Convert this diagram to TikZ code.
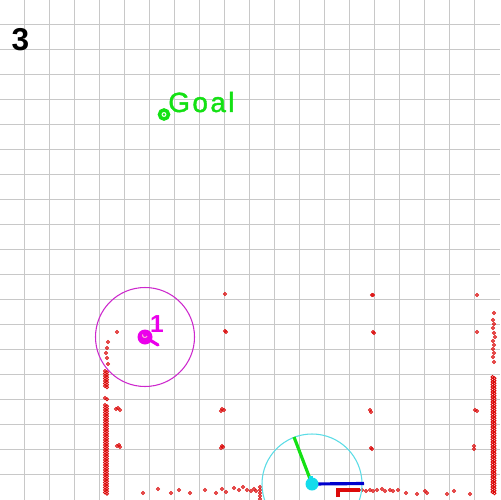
\documentclass[tikz,border=0pt]{standalone}
\usepackage{fontspec}
\setsansfont{Liberation Sans}
\usetikzlibrary{calc}
\definecolor{gridgray}{RGB}{200,200,200}
\definecolor{scanred}{RGB}{220,10,10}
\definecolor{goalgreen}{RGB}{20,225,20}
\definecolor{robmagenta}{RGB}{235,0,235}
\definecolor{rangemagenta}{RGB}{205,40,205}
\definecolor{robcyan}{RGB}{20,220,235}
\definecolor{rangecyan}{RGB}{90,220,230}
\definecolor{axisblue}{RGB}{0,0,205}

\begin{document}
\begin{tikzpicture}[x=0.02cm, y=-0.02cm,
    % Define the styles for the map
    gridline/.style={gridgray, line width=0.6pt},
    scanpt/.style={scanred, line width=0.5pt},
    heading/.style={line width=1.8pt},
    rangecircle/.style={line width=0.6pt}
]

% Fix the page and cut at its edges
\useasboundingbox (0,0) rectangle (500,500);
\clip (0,0) rectangle (500,500);
\fill[white] (0,0) rectangle (500,500);

% Draw the grid
\foreach \i in {1,...,19} {
    \draw[gridline] (25*\i-0.5,0) -- (25*\i-0.5,500);
    \draw[gridline] (0,25*\i-0.5) -- (500,25*\i-0.5);
}

% Define the points of the scene
\coordinate (goal) at (164,114.5);
\coordinate (robot1) at (145,337);
\coordinate (tail1) at (158,345);
\coordinate (robot2) at (312,484);
\coordinate (head2) at (294,437);
\coordinate (axis2) at (364,483.5);

% Draw the scan points (walls)
\foreach \y in {371,373.5,...,387,398,405,407.5,...,493} {
    \draw[scanpt] (105,\y) ++(-1.5,0) -- ++(1.5,-1.5) -- ++(1.5,1.5) -- ++(-1.5,1.5) -- cycle;
    \draw[scanpt] (107,\y+1.2) ++(-1.5,0) -- ++(1.5,-1.5) -- ++(1.5,1.5) -- ++(-1.5,1.5) -- cycle;
}
\foreach \y in {377,379.5,...,493} {
    \draw[scanpt] (492.5,\y) ++(-1.5,0) -- ++(1.5,-1.5) -- ++(1.5,1.5) -- ++(-1.5,1.5) -- cycle;
    \draw[scanpt] (494.5,\y+1.2) ++(-1.5,0) -- ++(1.5,-1.5) -- ++(1.5,1.5) -- ++(-1.5,1.5) -- cycle;
}
\foreach \y/\x in {313/494,320/493,324/494,328/493,333/494,337/495,341/493,345/494,349/493,353/494,357/493,362/494} {
    \draw[scanpt] (\x,\y) ++(-1.5,0) -- ++(1.5,-1.5) -- ++(1.5,1.5) -- ++(-1.5,1.5) -- cycle;
}
\foreach \y in {487,490,...,500} {
    \draw[scanpt] (260,\y) ++(-1.5,0) -- ++(1.5,-1.5) -- ++(1.5,1.5) -- ++(-1.5,1.5) -- cycle;
}

% Draw the single scan points
\foreach \x/\y in {117/332,108/342,107/348,106/353,107/358,108/364,
    116/409,118/408,120/410,117/446,119/445,120/447,143/493,
    225/294,225/331,226/332,222/409,224/410,221/411,222/446,223/447,221/448,
    372/295,373/295,373/332,374/333,370/410,371/412,371/448,372/449,
    477/295,477/332,475/410,477/411,474/446,474/449,
    158/489,171/493,179/490,190/493,205/490,216/493,222/489,226/492,234/488,
    239/490,243/487,247/490,251/491,254/489,256/491,
    362/490,366/491,370/490,373/491,377/490,382/489,385/491,390/490,393/491,
    398/490,406/493,417/494,425/491,427/493,447/494,454/491,470/494} {
    \draw[scanpt] (\x,\y) ++(-1.5,0) -- ++(1.5,-1.5) -- ++(1.5,1.5) -- ++(-1.5,1.5) -- cycle;
}
\draw[scanred, line width=2.4pt] (338,497) -- (338,490) -- (360,490);

% Draw the goal
\draw[goalgreen, line width=2pt] (goal) circle (4.5);
\fill[goalgreen] (goal) circle (1.4);
\node[goalgreen, anchor=base west, inner sep=0pt, font=\sffamily\fontsize{15.8}{18}\selectfont\addfontfeature{LetterSpace=9, FakeBold=1.5}] (goallabel) at (168,112) {Goal};

% Draw the frame number
\node[font=\sffamily\bfseries\fontsize{18}{20}\selectfont, inner sep=0pt] (framenum) at (20.5,39.5) {3};

% Draw robot 1
\draw[rangemagenta, rangecircle] (robot1) circle (49.5);
\draw[robmagenta, heading, line cap=round] (robot1) -- (tail1);
\fill[robmagenta] (robot1) circle (7.5);
\draw[magenta!35, line width=0.6pt] ($(robot1)+(2,-1)$) arc (20:200:2.3);
\node[robmagenta, font=\sffamily\bfseries\fontsize{14}{16}\selectfont, inner sep=0pt] (robotlabel1) at (157,324) {1};

% Draw robot 2
\draw[rangecyan, rangecircle] (robot2) circle (50);
\draw[axisblue, heading] (robot2) -- (axis2);
\draw[goalgreen, heading] (robot2) -- (head2);
\fill[robcyan] (robot2) circle (6.5);
\fill[robcyan] (309,476) rectangle (313,482);

\end{tikzpicture}
\end{document}
